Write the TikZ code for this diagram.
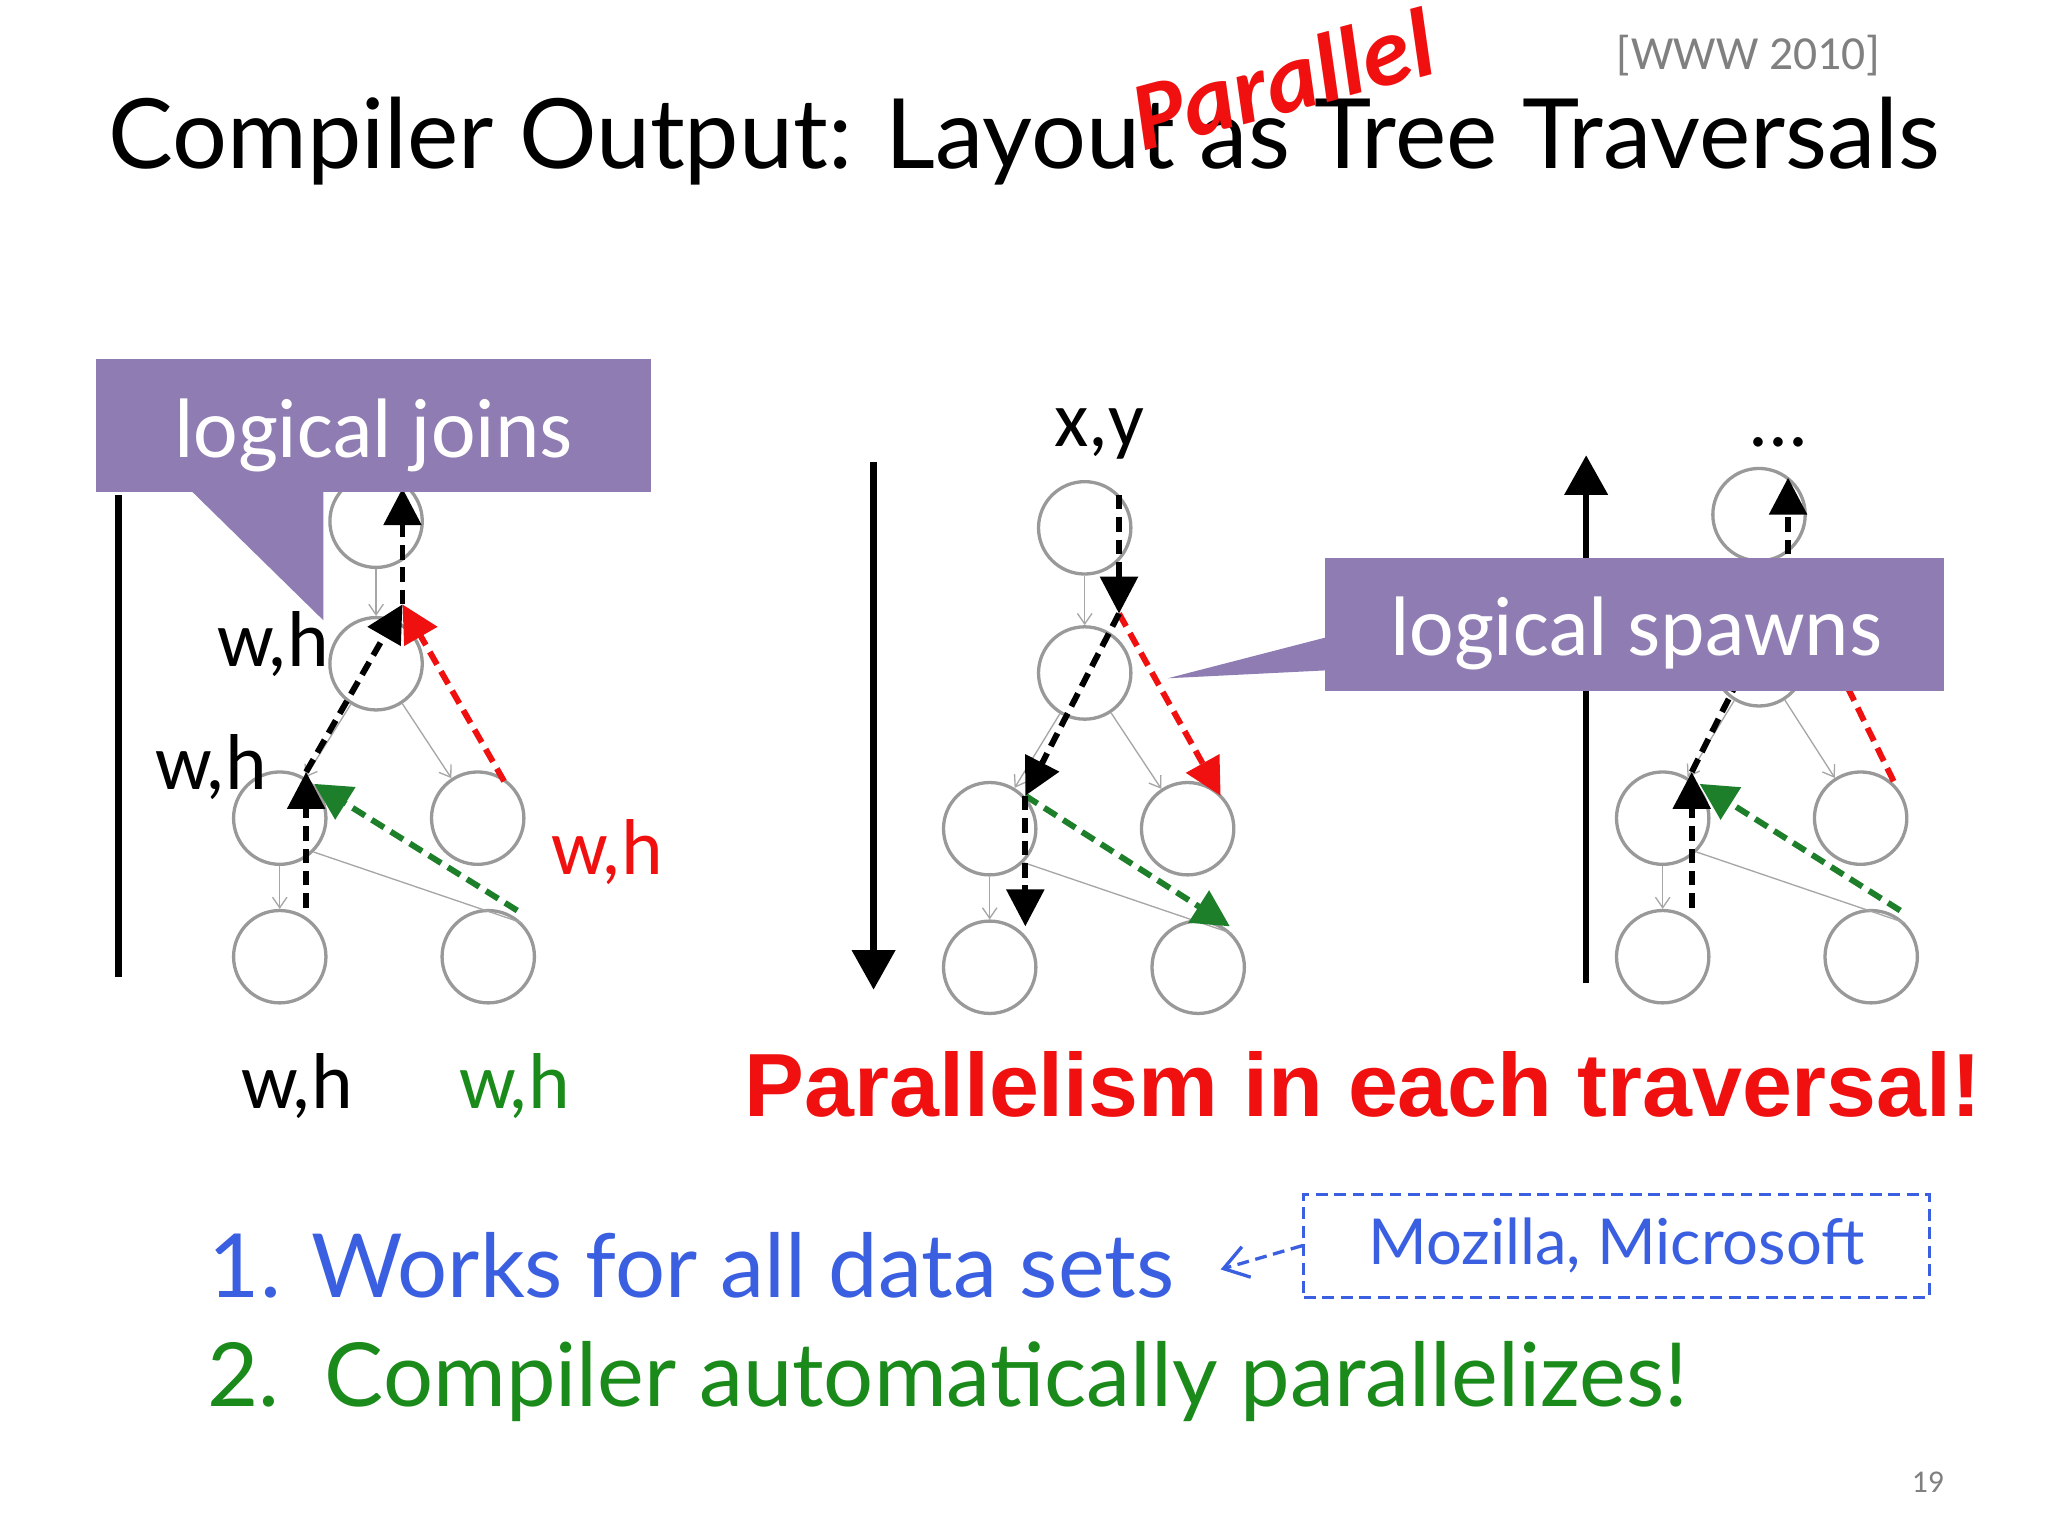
\documentclass[tikz,border=0pt]{standalone}
\usepackage{fontspec}
\setmainfont{Carlito}
\newfontfamily\titlefont{Lato}
\newfontfamily\arialfont{Liberation Sans}
\usetikzlibrary{arrows.meta}
\definecolor{purp}{HTML}{8E7CB3}
\definecolor{myblue}{HTML}{3A5FE0}
\definecolor{mygreen}{HTML}{1A8A1A}
\definecolor{myred}{HTML}{F01010}
\definecolor{dgreen}{HTML}{1E7F2A}
\begin{document}
\begin{tikzpicture}[x=1pt,y=-1pt,
  tn/.style={circle,draw=gray!80,line width=2.5pt,minimum size=70pt,inner sep=0},
  thin/.style={draw=gray!70,line width=1pt,-{Straight Barb[length=8pt,width=11pt]}},
  bd/.style={line width=4.5pt,dash pattern=on 11pt off 6pt,-{Triangle[length=28pt,width=28pt]}},
  lbl/.style={font=\fontsize{60}{60}\selectfont,inner sep=0}]
\useasboundingbox (0,0) rectangle (1552,1164);
\fill[white] (0,0) rectangle (1552,1164);
% title
\node[anchor=base west,inner sep=0,font=\titlefont\fontsize{73.5}{74}\selectfont] (title) at (82,128) {Compiler Output: Layout as Tree Traversals};
\node[rotate=15,text=myred,inner sep=0,font=\bfseries\itshape\fontsize{74}{74}\selectfont] (par) at (972,60) {Parallel};
\node[text=gray,inner sep=0,font=\fontsize{36}{36}\selectfont] (www) at (1325,42) {[WWW 2010]};
% axes
\coordinate (l1) at (90,375); \coordinate (l2) at (90,740);
\draw[line width=5pt] (l1) -- (l2);
\coordinate (m1) at (662,350); \coordinate (m2) at (662,750);
\draw[line width=5pt,-{Triangle[length=30pt,width=32pt]}] (m1) -- (m2);
\coordinate (r1) at (1202,745); \coordinate (r2) at (1202,345);
\draw[line width=5pt,-{Triangle[length=30pt,width=32pt]}] (r1) -- (r2);
% tree 1
\node[tn] (a0) at (285,395) {}; \node[tn] (a1) at (285,503) {};
\node[tn] (a2) at (212,620) {}; \node[tn] (a3) at (362,620) {};
\node[tn] (a4) at (212,725) {}; \node[tn] (a5) at (370,725) {};
\draw[thin] (a0) -- (a1); \draw[thin] (a1) -- (a2); \draw[thin] (a1) -- (a3);
\draw[thin] (a2) -- (a4); \draw[draw=gray!70,line width=1pt] (a2.south east) -- (a5.north east);
\coordinate (p1) at (232,688); \coordinate (p2) at (232,585); \coordinate (p3) at (305,458); \coordinate (p4) at (305,370);
\coordinate (p5) at (382,592); \coordinate (p6) at (392,690); \coordinate (p7) at (238,594);
\draw[bd,myred] (p5) -- (p3);
\draw[bd,dgreen] (p6) -- (p7);
\draw[bd] (p1) -- (p2); \draw[bd] (p2) -- (p3); \draw[bd] (p3) -- (p4);
% tree 2
\node[tn] (b0) at (822,400) {}; \node[tn] (b1) at (822,510) {};
\node[tn] (b2) at (750,628) {}; \node[tn] (b3) at (900,628) {};
\node[tn] (b4) at (750,733) {}; \node[tn] (b5) at (908,733) {};
\draw[thin] (b0) -- (b1); \draw[thin] (b1) -- (b2); \draw[thin] (b1) -- (b3);
\draw[thin] (b2) -- (b4); \draw[draw=gray!70,line width=1pt] (b2.south east) -- (b5.north east);
\coordinate (q1) at (848,375); \coordinate (q2) at (848,465); \coordinate (q3) at (777,603); \coordinate (q4) at (777,702);
\coordinate (q5) at (925,603); \coordinate (q6) at (932,702);
\draw[bd,myred] (q2) -- (q5);
\draw[bd,dgreen] (q3) -- (q6);
\draw[bd] (q1) -- (q2); \draw[bd] (q2) -- (q3); \draw[bd] (q3) -- (q4);
% tree 3
\node[tn] (c0) at (1333,390) {}; \node[tn] (c1) at (1333,500) {};
\node[tn] (c2) at (1260,620) {}; \node[tn] (c3) at (1410,620) {};
\node[tn] (c4) at (1260,725) {}; \node[tn] (c5) at (1418,725) {};
\draw[thin] (c1) -- (c2); \draw[thin] (c1) -- (c3);
\draw[thin] (c2) -- (c4); \draw[draw=gray!70,line width=1pt] (c2.south east) -- (c5.north east);
\coordinate (s1) at (1282,688); \coordinate (s2) at (1282,585); \coordinate (s3) at (1330,490);
\coordinate (s4) at (1355,420); \coordinate (s5) at (1355,362);
\coordinate (s6) at (1435,592); \coordinate (s7) at (1385,490); \coordinate (s8) at (1440,690); \coordinate (s9) at (1288,594);
\draw[myred,line width=4.5pt,dash pattern=on 11pt off 6pt] (s6) -- (s7);
\draw[line width=4.5pt,dash pattern=on 11pt off 6pt] (s2) -- (s3);
\draw[bd,dgreen] (s8) -- (s9);
\draw[bd] (s1) -- (s2); \draw[bd] (s4) -- (s5);
% callouts
\fill[purp] (73,272) rectangle (493,373);
\fill[purp] (145,372) -- (245,470) -- (245,372) -- cycle;
\node[text=white,font=\fontsize{64}{64}\selectfont,inner sep=0] (cj) at (283,330) {logical joins};
\fill[purp] (1004,423) rectangle (1473,524);
\fill[purp] (1005,483) -- (885,514) -- (1005,508) -- cycle;
\node[text=white,font=\fontsize{64}{64}\selectfont,inner sep=0] (cs) at (1240,480) {logical spawns};
% labels
\node[lbl,anchor=base] (t1) at (207,505) {w,h};
\node[lbl,anchor=base] (t2) at (160,598) {w,h};
\node[lbl,anchor=base,text=myred] (t3) at (460,663) {w,h};
\node[lbl,anchor=base] (t4) at (225,840) {w,h};
\node[lbl,anchor=base,text=mygreen] (t5) at (390,840) {w,h};
\node[lbl,anchor=base] (t6) at (833,338) {x,y};
\node[lbl,anchor=base] (t7) at (1348,338) {...};
\node[text=myred,inner sep=0,font=\arialfont\bfseries\fontsize{68}{68}\selectfont,anchor=base] (pe) at (1033,846) {Parallelism in each traversal!};
% list
\node[anchor=base west,inner sep=0,text=myblue,font=\titlefont\fontsize{67}{67}\selectfont] (i1) at (158,983) {1. Works for all data sets};
\node[anchor=base west,inner sep=0,text=mygreen,font=\titlefont\fontsize{67}{67}\selectfont] (i2) at (157,1066) {2.\ \ Compiler automatically parallelizes!};
\node[draw=myblue,dash pattern=on 9pt off 5pt,line width=2.5pt,minimum width=474pt,minimum height=78pt,inner sep=0,text=myblue,font=\titlefont\fontsize{48}{48}\selectfont] (mz) at (1225,944) {Mozilla, Microsoft};
\coordinate (ah) at (925,962);
\draw[myblue,dash pattern=on 9pt off 5pt,line width=2.5pt,-{Straight Barb[length=18pt,width=24pt]}] (mz.west) -- (ah);
\node[text=gray,inner sep=0,font=\fontsize{24}{24}\selectfont] (pg) at (1461,1123) {19};
\end{tikzpicture}
\end{document}
